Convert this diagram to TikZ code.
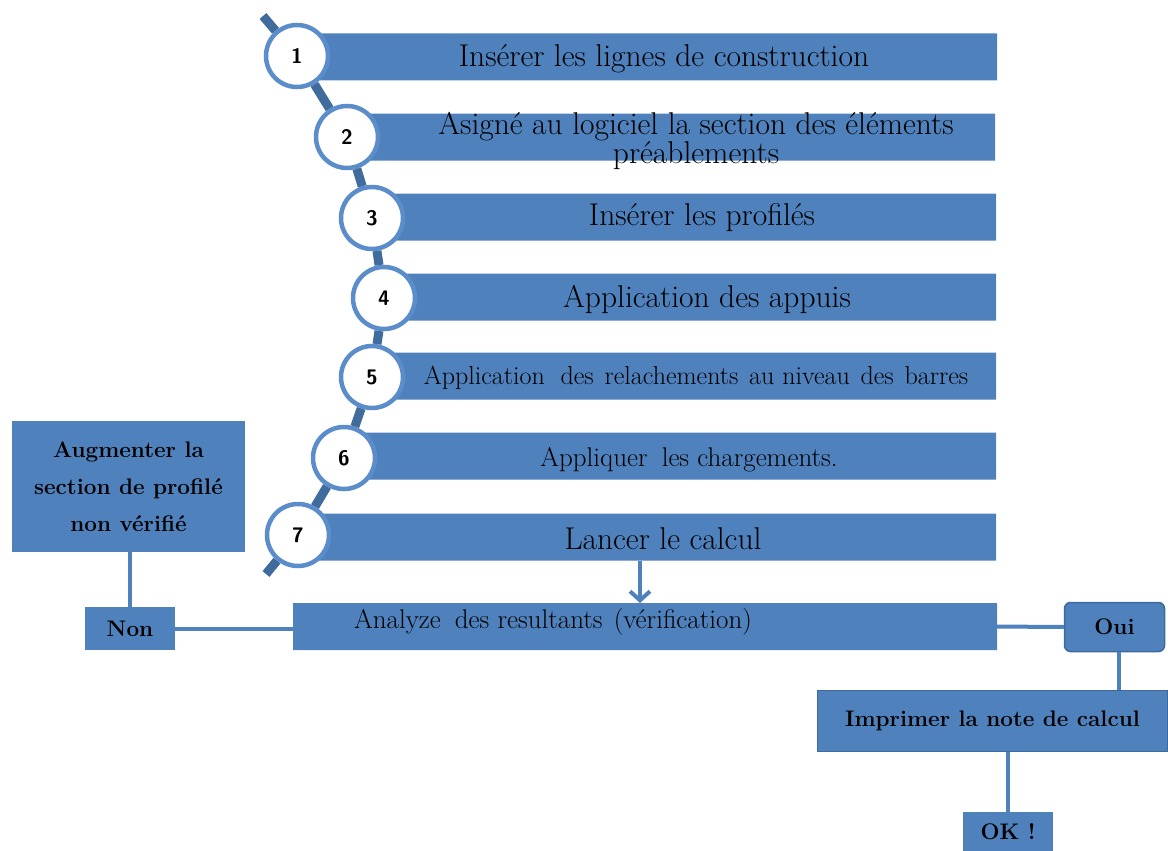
\documentclass[tikz,border=0pt]{standalone}
\usepackage{fontspec}
\usetikzlibrary{shapes.misc,arrows.meta}
\definecolor{barblue}{HTML}{4F81BD}
\definecolor{ringblue}{HTML}{5B8DCA}
\definecolor{spineblue}{HTML}{3F6C9C}
\definecolor{edgeblue}{HTML}{3E6A9E}
\tikzset{
  bar/.style={chamfered rectangle, chamfered rectangle corners=north east,
    chamfered rectangle xsep=7pt, chamfered rectangle ysep=7pt,
    fill=barblue, inner sep=0pt, outer sep=0pt},
  numc/.style={circle, draw=ringblue, line width=4.5pt, fill=white,
    minimum size=62pt, inner sep=0pt, font=\sffamily\bfseries\fontsize{21}{21}\selectfont},
  spine/.style={draw=spineblue, line width=9pt},
  bigtxt/.style={font=\fontsize{31.5}{28}\selectfont, align=center, inner sep=0pt},
  midtxt/.style={font=\fontsize{27}{27}\selectfont, align=center, inner sep=0pt},
  box/.style={rectangle, fill=barblue, inner sep=0pt, align=center,
    font=\bfseries\fontsize{22.5}{37}\selectfont},
  link/.style={draw=barblue, line width=4pt},
}
\begin{document}
\begin{tikzpicture}[x=1pt,y=-1pt]
\useasboundingbox (0,0) rectangle (1168,851);
% bars
\node[bar, minimum width=697pt, minimum height=47pt] (b1) at (648.5,57) {};
\node[bar, minimum width=649pt, minimum height=47pt] (b2) at (670.5,137) {};
\node[bar, minimum width=624pt, minimum height=47pt] (b3) at (684,217) {};
\node[bar, minimum width=612pt, minimum height=47pt] (b4) at (690,297) {};
\node[bar, minimum width=624pt, minimum height=47pt] (b5) at (684,376) {};
\node[bar, minimum width=652pt, minimum height=47pt] (b6) at (670,456) {};
\node[bar, minimum width=698pt, minimum height=47pt] (b7) at (647,537) {};
\node[bar, minimum width=704pt, minimum height=47pt] (an) at (645,626.5) {};
% bar texts
\node[bigtxt] (t1) at (664,59) {Insérer les lignes de construction};
\node[bigtxt] (t2) at (696,141) {Asigné au logiciel la section des éléments\\préablements};
\node[bigtxt] (t3) at (702,218) {Insérer les profilés};
\node[bigtxt] (t4) at (707,299) {Application des appuis};
\node[font=\fontsize{26}{26}\selectfont, inner sep=0pt] (t5) at (696,378)
  {Application\hspace{8pt} des\hspace{3pt} relachements\hspace{3pt} au niveau\hspace{3pt} des\hspace{3pt} barres};
\node[midtxt] (t6) at (689,460) {Appliquer\hspace{6pt} les chargements.};
\node[bigtxt] (t7) at (663,539) {Lancer le calcul};
\node[midtxt] (tan) at (553,622) {Analyze\hspace{6pt} des resultants\hspace{3pt} (vérification)};
% circles
\node[numc] (c1) at (297,56) {1};
\node[numc] (c2) at (347,137) {2};
\node[numc] (c3) at (372,218) {3};
\node[numc] (c4) at (384,298) {4};
\node[numc] (c5) at (372,377) {5};
\node[numc] (c6) at (344,458) {6};
\node[numc] (c7) at (298,535) {7};
\coordinate (top) at (263,16);
\coordinate (bot) at (266,574);
\draw[spine] (top) -- (c1);
\draw[spine] (c1) -- (c2);
\draw[spine] (c2) -- (c3);
\draw[spine] (c3) -- (c4);
\draw[spine] (c4) -- (c5);
\draw[spine] (c5) -- (c6);
\draw[spine] (c6) -- (c7);
\draw[spine] (c7) -- (bot);
% side boxes
\node[box, minimum width=233pt, minimum height=131pt] (aug) at (128.5,486.5)
  {Augmenter la\\section de profilé\\non vérifié};
\node[box, minimum width=90pt, minimum height=43pt] (non) at (130,628.5) {Non};
\node[box, draw=edgeblue, line width=1.5pt, rounded corners=6pt,
  minimum width=100pt, minimum height=49pt] (oui) at (1114.5,627) {Oui};
\node[box, draw=edgeblue, line width=1pt,
  minimum width=350pt, minimum height=61pt] (imp) at (992.5,721) {Imprimer la note de calcul};
\node[box, minimum width=90pt, minimum height=40pt] (ok) at (1008,832) {OK !};
% connectors
\draw[link] (non.north |- aug.south) -- (non.north);
\draw[link] (non.east) -- (non.east -| an.west);
\draw[link] ([xshift=-4pt]an.east) -- (oui.west);
\draw[link] ([xshift=4.5pt]oui.south) -- ([xshift=4.5pt]oui.south |- imp.north);
\draw[link] (ok.north |- imp.south) -- (ok.north);
\draw[link, -{Straight Barb[length=9pt,width=20pt,line width=4pt]}]
  ([xshift=-7pt]b7.south) -- ([xshift=-7pt]b7.south |- an.north);
\end{tikzpicture}
\end{document}
